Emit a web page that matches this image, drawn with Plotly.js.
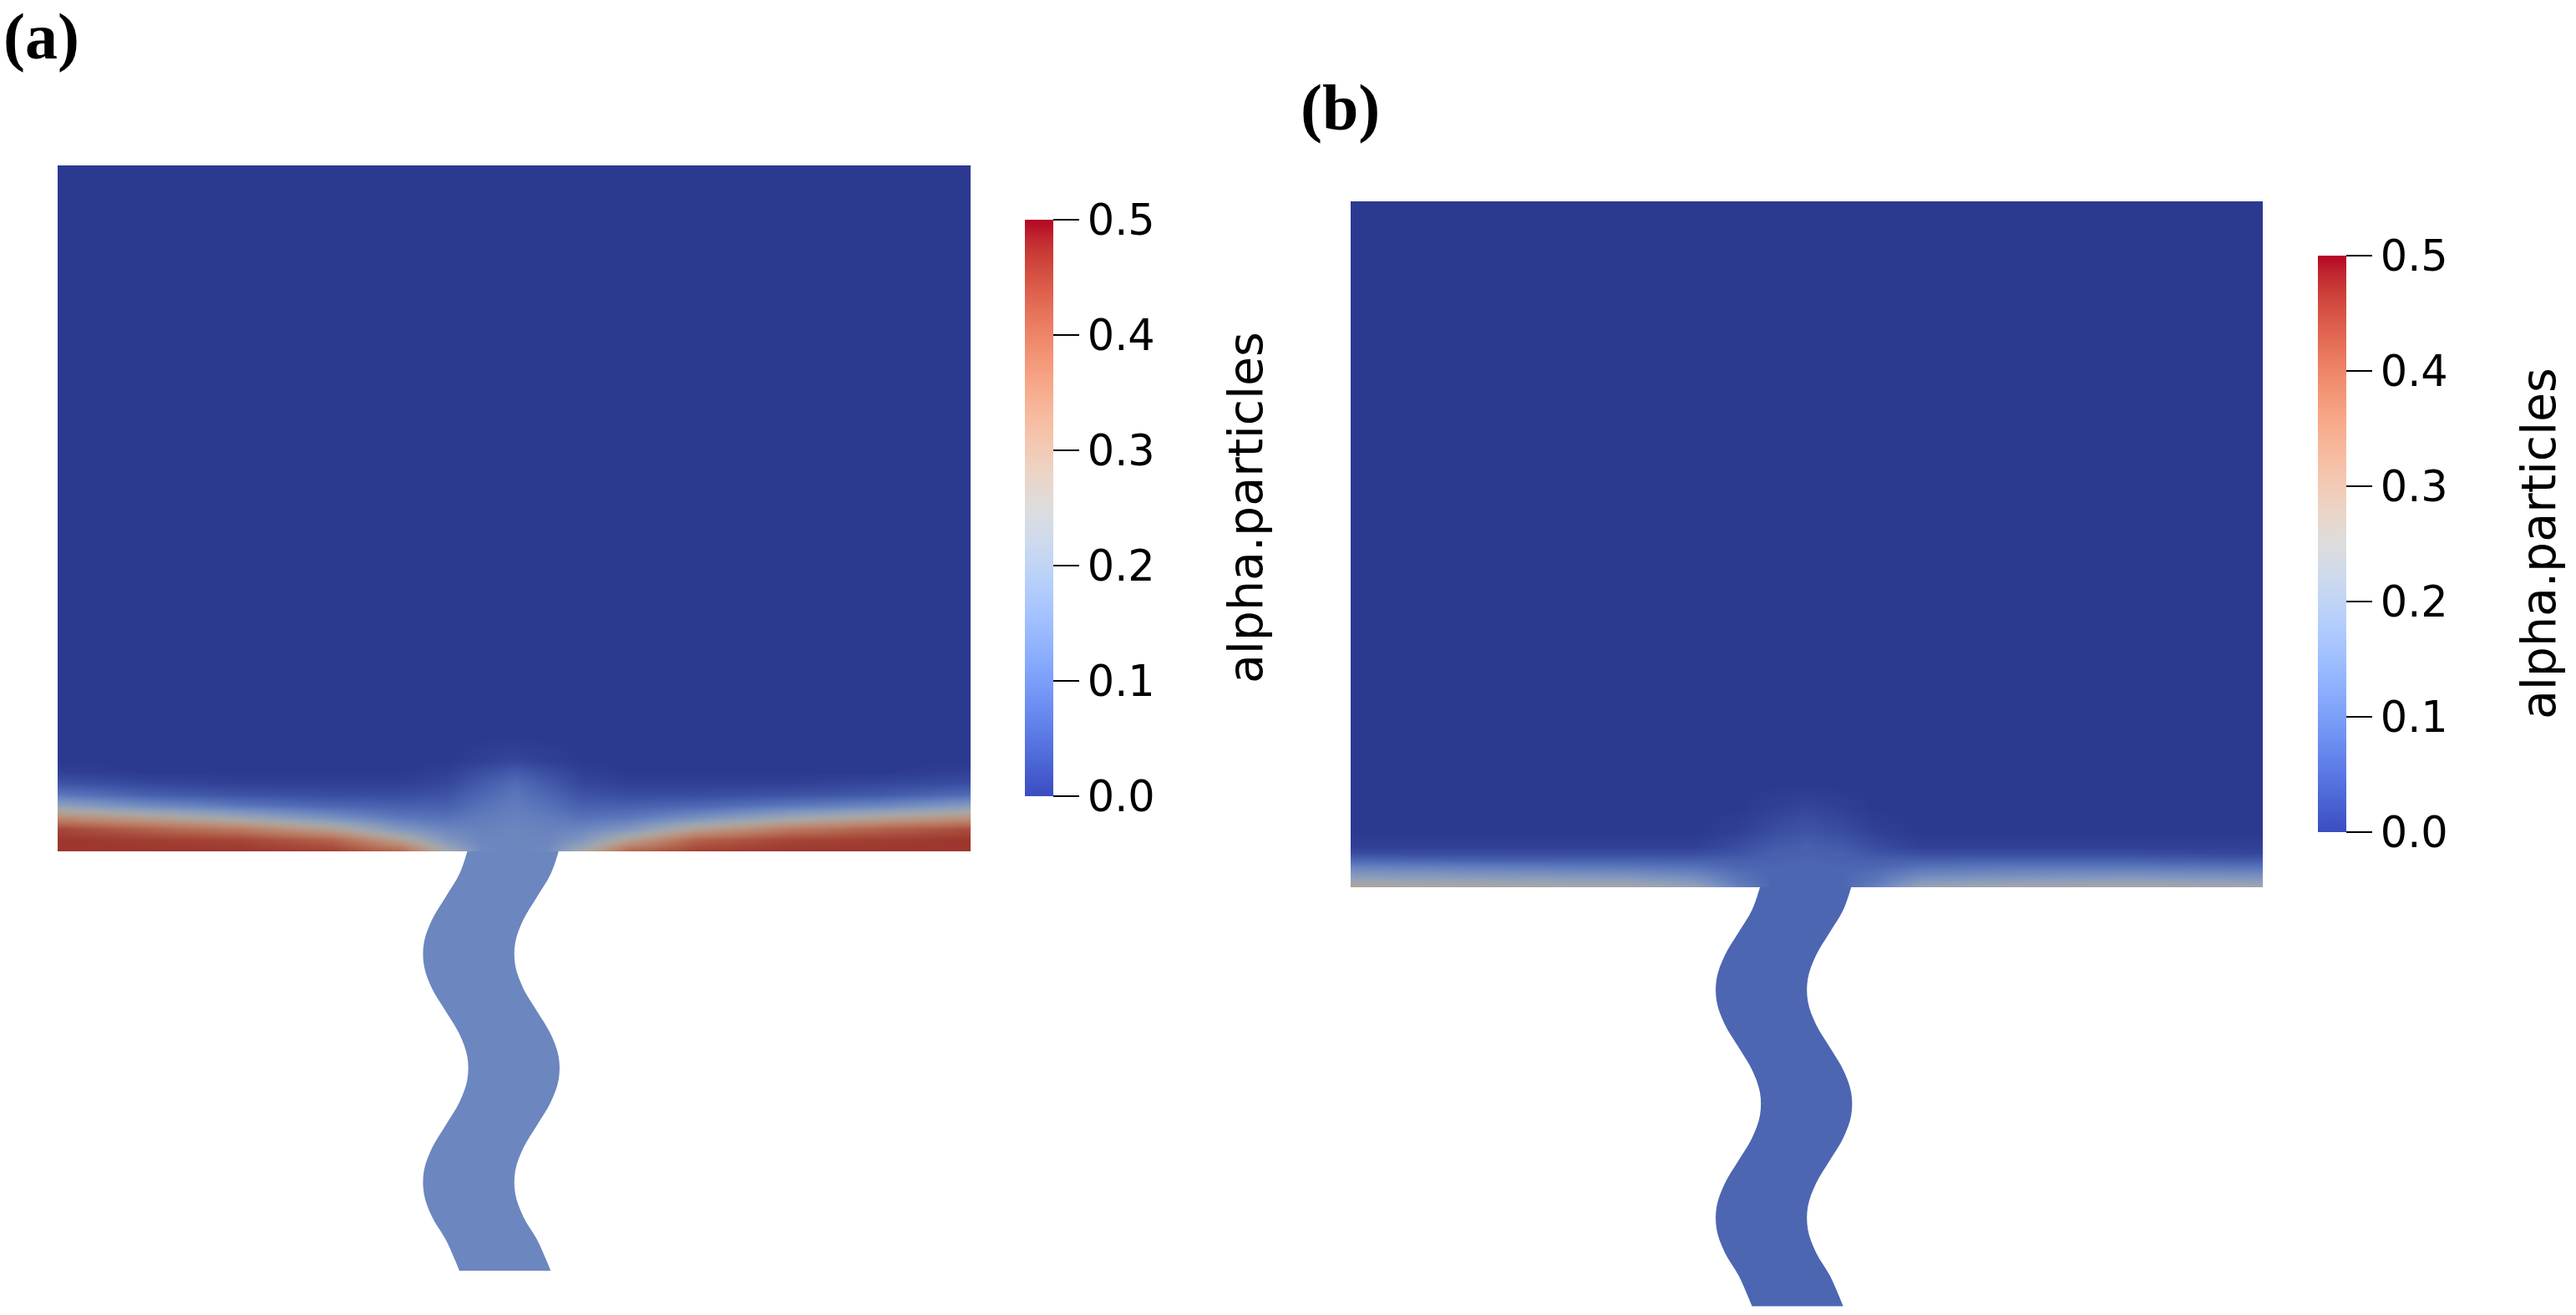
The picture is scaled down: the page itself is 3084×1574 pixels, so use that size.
<!DOCTYPE html>
<html>
<head>
<meta charset="utf-8">
<script src="https://cdn.plot.ly/plotly-3.0.1.min.js"></script>
<style>html,body{margin:0;padding:0;background:#fff;}#chart{width:3084px;height:1574px;}</style>
</head>
<body>
<div id="chart"></div>
<script>
// ---------------- DATA ----------------
// colour bar
const colorbarTitle = 'alpha.particles';
const tickVals = [0, 0.1, 0.2, 0.3, 0.4, 0.5];
const tickText = ['0.0', '0.1', '0.2', '0.3', '0.4', '0.5'];
const panelLabels = ['(a)', '(b)'];

// domain is 40 units wide; channel of 4 units width hangs below the box
// channel walls (depth below the box bottom, left/right wall x)
const chanDepth = [0, 1, 2, 3, 4, 5, 6, 7, 8, 9, 10, 11, 12, 13, 14, 15, 16, 17, 18, 18.37];
const chanLeft  = [17.95, 17.6, 17.0, 16.4, 16.05, 16.05, 16.4, 17.0, 17.6, 17.95, 17.95, 17.6, 17.0, 16.4, 16.05, 16.05, 16.4, 17.0, 17.45, 17.6];
const chanRight = [21.95, 21.6, 21.0, 20.4, 20.05, 20.05, 20.4, 21.0, 21.6, 21.95, 21.95, 21.6, 21.0, 20.4, 20.05, 20.05, 20.4, 21.0, 21.45, 21.6];

// panel (a): alpha.particles field in the box (rows = height above bottom, cols = x)
const fieldXA = [0, 4, 8, 12, 15, 17, 18.5, 20, 21.5, 23, 25, 28, 32, 36, 40];
const fieldYA = [0, 0.5, 1.0, 1.5, 2.0, 2.5, 3.0, 3.5, 4.0, 5.0, 30];
const alphaA = [
  [0.46, 0.46, 0.46, 0.45, 0.40, 0.25, 0.14, 0.13, 0.14, 0.25, 0.40, 0.45, 0.46, 0.46, 0.46],
  [0.46, 0.45, 0.44, 0.40, 0.28, 0.17, 0.13, 0.13, 0.13, 0.17, 0.28, 0.40, 0.44, 0.45, 0.46],
  [0.44, 0.40, 0.36, 0.28, 0.17, 0.13, 0.12, 0.13, 0.12, 0.13, 0.17, 0.28, 0.36, 0.40, 0.43],
  [0.33, 0.28, 0.22, 0.15, 0.10, 0.09, 0.11, 0.12, 0.11, 0.09, 0.10, 0.15, 0.22, 0.27, 0.31],
  [0.20, 0.14, 0.10, 0.07, 0.06, 0.06, 0.09, 0.11, 0.09, 0.06, 0.06, 0.07, 0.10, 0.13, 0.18],
  [0.10, 0.06, 0.04, 0.03, 0.03, 0.04, 0.07, 0.10, 0.07, 0.04, 0.03, 0.03, 0.04, 0.05, 0.08],
  [0.04, 0.02, 0.01, 0.01, 0.01, 0.02, 0.05, 0.08, 0.05, 0.02, 0.01, 0.01, 0.01, 0.02, 0.03],
  [0.01, 0.00, 0.00, 0.00, 0.00, 0.01, 0.03, 0.05, 0.03, 0.01, 0.00, 0.00, 0.00, 0.00, 0.01],
  [0.00, 0.00, 0.00, 0.00, 0.00, 0.00, 0.01, 0.02, 0.01, 0.00, 0.00, 0.00, 0.00, 0.00, 0.00],
  [0.00, 0.00, 0.00, 0.00, 0.00, 0.00, 0.00, 0.00, 0.00, 0.00, 0.00, 0.00, 0.00, 0.00, 0.00],
  [0.00, 0.00, 0.00, 0.00, 0.00, 0.00, 0.00, 0.00, 0.00, 0.00, 0.00, 0.00, 0.00, 0.00, 0.00]
];
const channelAlphaA = 0.13;

// panel (b)
const fieldXB = [0, 6, 12, 15, 17, 18.5, 20, 21.5, 23, 25, 28, 34, 40];
const fieldYB = [0, 0.3, 0.6, 0.9, 1.2, 1.5, 1.8, 2.5, 3.5, 4.5, 30];
const alphaB = [
  [0.28, 0.26, 0.25, 0.22, 0.12, 0.07, 0.07, 0.07, 0.12, 0.22, 0.24, 0.25, 0.24],
  [0.22, 0.21, 0.20, 0.17, 0.10, 0.07, 0.07, 0.07, 0.10, 0.17, 0.19, 0.20, 0.19],
  [0.17, 0.16, 0.15, 0.13, 0.09, 0.07, 0.07, 0.07, 0.09, 0.13, 0.14, 0.15, 0.14],
  [0.12, 0.11, 0.10, 0.09, 0.07, 0.07, 0.07, 0.07, 0.07, 0.09, 0.10, 0.10, 0.09],
  [0.07, 0.06, 0.06, 0.06, 0.06, 0.06, 0.07, 0.06, 0.06, 0.06, 0.06, 0.06, 0.05],
  [0.03, 0.03, 0.03, 0.03, 0.04, 0.06, 0.06, 0.06, 0.04, 0.03, 0.03, 0.03, 0.02],
  [0.01, 0.01, 0.01, 0.01, 0.03, 0.05, 0.06, 0.05, 0.03, 0.01, 0.01, 0.01, 0.01],
  [0.00, 0.00, 0.00, 0.00, 0.01, 0.03, 0.04, 0.03, 0.01, 0.00, 0.00, 0.00, 0.00],
  [0.00, 0.00, 0.00, 0.00, 0.00, 0.01, 0.02, 0.01, 0.00, 0.00, 0.00, 0.00, 0.00],
  [0.00, 0.00, 0.00, 0.00, 0.00, 0.00, 0.00, 0.00, 0.00, 0.00, 0.00, 0.00, 0.00],
  [0.00, 0.00, 0.00, 0.00, 0.00, 0.00, 0.00, 0.00, 0.00, 0.00, 0.00, 0.00, 0.00]
];
const channelAlphaB = 0.07;

// ---------------- STYLE ----------------
const W = 3084, H = 1574;
const coolwarmPos = [0, 0.03125, 0.0625, 0.09375, 0.125, 0.15625, 0.1875, 0.21875, 0.25, 0.28125, 0.3125, 0.34375, 0.375, 0.40625, 0.4375, 0.46875, 0.5,
  0.53125, 0.5625, 0.59375, 0.625, 0.65625, 0.6875, 0.71875, 0.75, 0.78125, 0.8125, 0.84375, 0.875, 0.90625, 0.9375, 0.96875, 1];
const coolwarmRGB = [[59,76,192],[68,90,204],[77,104,215],[87,117,225],[98,130,234],[108,142,241],[119,154,247],[130,165,251],[141,176,254],
  [152,185,255],[163,194,255],[174,201,253],[184,208,249],[194,213,244],[204,217,238],[213,219,230],[221,221,221],[229,216,209],[236,211,197],
  [241,204,184],[245,196,172],[247,187,160],[247,177,148],[247,166,135],[244,154,123],[241,141,111],[236,127,99],[229,112,88],[222,96,77],
  [213,80,66],[203,62,56],[192,40,47],[180,4,38]];
const coolwarm = coolwarmPos.map((p, i) => [p, 'rgb(' + coolwarmRGB[i].join(',') + ')']);
const zMin = 0, zMax = 0.5;
const shade = 0.75; // scene lighting darkens the rendered surface

function shadedColor(v) {
  const t = Math.max(0, Math.min(1, (v - zMin) / (zMax - zMin)));
  let i = 0;
  while (i < coolwarmPos.length - 2 && t > coolwarmPos[i + 1]) i++;
  const f = (t - coolwarmPos[i]) / (coolwarmPos[i + 1] - coolwarmPos[i]);
  const c = coolwarmRGB[i].map((a, k) => Math.round((a + f * (coolwarmRGB[i + 1][k] - a)) * shade));
  return 'rgb(' + c.join(',') + ')';
}

const boxA = {l: 69, r: 1162, t: 198, b: 1019};
const boxB = {l: 1617, r: 2709, t: 241, b: 1062};
const unitsWide = 40;
const tickFont = {family: 'DejaVu Sans', size: 51, color: '#000'};
const titleFont = {family: 'DejaVu Sans', size: 57, color: '#000'};
const labelFont = {family: 'Liberation Serif', size: 78, color: '#000'};

function px2x(p) { return p / W; }
function px2y(p) { return 1 - p / H; }

function panel(box, sfx, fieldX, fieldY, alpha, chanAlpha, cb, titleX, label, labelXY) {
  const ppu = (box.r - box.l) / unitsWide;
  const xa = 'xaxis' + (sfx.x === 1 ? '' : sfx.x);
  const yBox = 'yaxis' + (sfx.yb === 1 ? '' : sfx.yb);
  const yCh = 'yaxis' + sfx.yc;
  const lay = {};
  lay[xa] = {domain: [px2x(box.l), px2x(box.r)], range: [0, unitsWide], visible: false, fixedrange: true,
             anchor: 'y' + (sfx.yb === 1 ? '' : sfx.yb)};
  lay[yBox] = {domain: [px2y(box.b), px2y(box.t)], range: [0, (box.b - box.t) / ppu], visible: false, fixedrange: true,
               anchor: 'x' + (sfx.x === 1 ? '' : sfx.x)};
  lay[yCh] = {domain: [0, px2y(box.b)], range: [-(H - box.b) / ppu, 0], visible: false, fixedrange: true,
              anchor: 'x' + (sfx.x === 1 ? '' : sfx.x)};
  const xr = 'x' + (sfx.x === 1 ? '' : sfx.x);
  const yrb = 'y' + (sfx.yb === 1 ? '' : sfx.yb);
  const yrc = 'y' + sfx.yc;
  const traces = [
    {type: 'heatmap', x: fieldX, y: fieldY, z: alpha, xaxis: xr, yaxis: yrb,
     colorscale: coolwarm, zmin: zMin, zmax: zMax, zsmooth: 'best', hoverinfo: 'skip',
     colorbar: {thickness: 34, thicknessmode: 'pixels', len: cb.b - cb.t, lenmode: 'pixels',
                x: px2x(cb.l), xanchor: 'left', y: px2y((cb.t + cb.b) / 2), yanchor: 'middle',
                xpad: 0, ypad: 0, outlinewidth: 0, ticks: 'outside', ticklen: 31, tickwidth: 2, tickcolor: '#000',
                tickmode: 'array', tickvals: tickVals, ticktext: tickText, tickfont: tickFont,
                title: {text: ''}}},
    {type: 'scatter', mode: 'lines', x: chanLeft, y: chanDepth.map(d => -d), xaxis: xr, yaxis: yrc,
     line: {width: 0, color: 'rgba(0,0,0,0)', shape: 'spline'}, hoverinfo: 'skip', showlegend: false},
    {type: 'scatter', mode: 'lines', x: chanRight, y: chanDepth.map(d => -d), xaxis: xr, yaxis: yrc,
     fill: 'tonextx', fillcolor: shadedColor(chanAlpha),
     line: {width: 0, color: 'rgba(0,0,0,0)', shape: 'spline'}, hoverinfo: 'skip', showlegend: false}
  ];
  const shapes = [{type: 'rect', xref: xr + ' domain', yref: yrb + ' domain', x0: 0, x1: 1, y0: 0, y1: 1,
                   fillcolor: 'rgba(0,0,0,' + (1 - shade) + ')', line: {width: 0}, layer: 'above'}];
  const annotations = [
    {text: colorbarTitle, textangle: -90, xref: 'paper', yref: 'paper', x: px2x(titleX), y: px2y((cb.t + cb.b) / 2),
     xanchor: 'center', yanchor: 'middle', showarrow: false, font: titleFont},
    {text: '<b>' + label + '</b>', xref: 'paper', yref: 'paper', x: px2x(labelXY[0]), y: px2y(labelXY[1]),
     xanchor: 'center', yanchor: 'middle', showarrow: false, font: labelFont}
  ];
  return {lay, traces, shapes, annotations};
}

const pA = panel(boxA, {x: 1, yb: 1, yc: 2}, fieldXA, fieldYA, alphaA, channelAlphaA,
                 {l: 1227, t: 263, b: 953}, 1491, panelLabels[0], [49, 44]);
const pB = panel(boxB, {x: 2, yb: 3, yc: 4}, fieldXB, fieldYB, alphaB, channelAlphaB,
                 {l: 2775, t: 306, b: 996}, 3039, panelLabels[1], [1604, 128]);

const layout = Object.assign({
  width: W, height: H, margin: {l: 0, r: 0, t: 0, b: 0},
  paper_bgcolor: '#fff', plot_bgcolor: 'rgba(0,0,0,0)', showlegend: false,
  shapes: pA.shapes.concat(pB.shapes),
  annotations: pA.annotations.concat(pB.annotations)
}, pA.lay, pB.lay);

Plotly.newPlot('chart', pA.traces.concat(pB.traces), layout, {staticPlot: true, displayModeBar: false});
</script>
</body>
</html>
